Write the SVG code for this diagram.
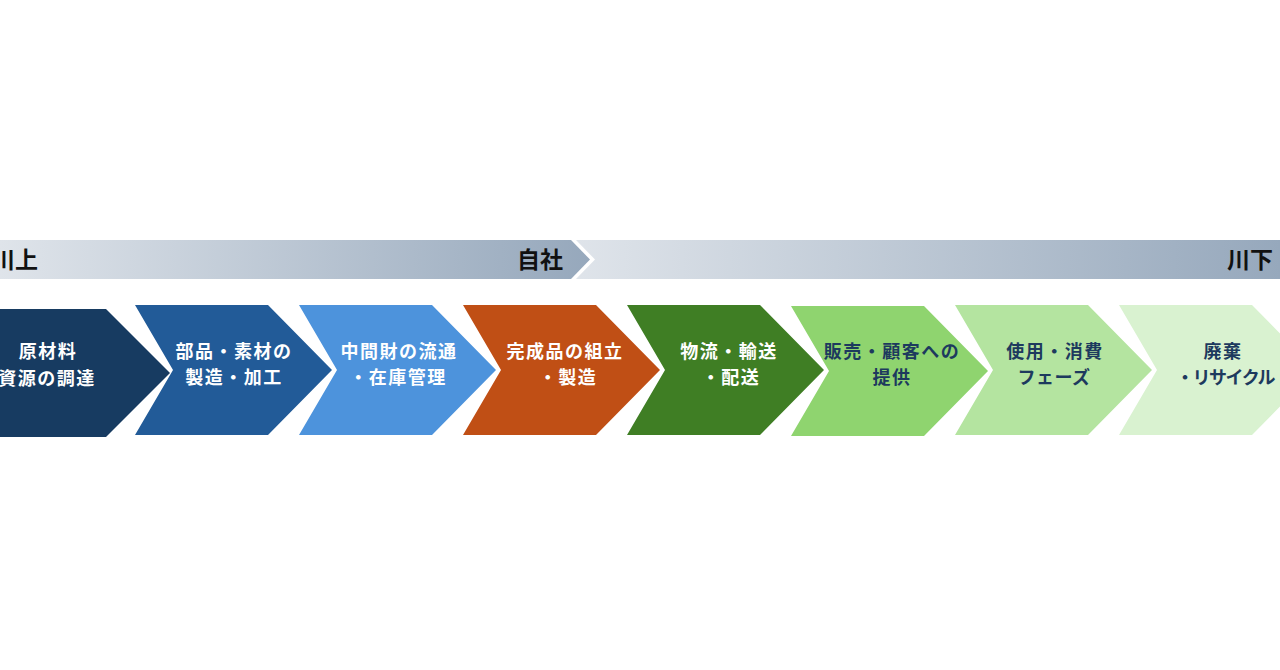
<svg xmlns="http://www.w3.org/2000/svg" width="1280" height="670" viewBox="0 0 1280 670">
  <defs>
    <linearGradient id="barL" x1="0" y1="0" x2="1" y2="0">
      <stop offset="0" stop-color="#dfe4ea"/>
      <stop offset="1" stop-color="#96a8bc"/>
    </linearGradient>
    <linearGradient id="barR" x1="0" y1="0" x2="1" y2="0">
      <stop offset="0" stop-color="#dfe4ea"/>
      <stop offset="1" stop-color="#96a8bc"/>
    </linearGradient>
  </defs>
  <style>
    .lbl { font-family: "Noto Sans CJK JP", "Noto Sans", sans-serif; font-size: 18px; font-weight: bold; text-anchor: middle; letter-spacing: 1.5px; }
    .w { fill: #ffffff; }
    .d { fill: #1d3a5e; }
    .bar { font-family: "Noto Sans CJK JP", "Noto Sans", sans-serif; font-size: 23px; font-weight: bold; fill: #111111; }
  </style>
  <rect width="1280" height="670" fill="#ffffff"/>

  <g id="flow-bar">
    <path d="M0,240 H571 L590,259.5 L571,279 H0 Z" fill="url(#barL)"/>
    <path d="M576,240 H1280 V279 H576 L595,259.5 Z" fill="url(#barR)"/>
    <text class="bar" x="-8" y="268">川上</text>
    <text class="bar" x="563" y="268" text-anchor="end">自社</text>
    <text class="bar" x="1227" y="268">川下</text>
  </g>

  <g id="node1">
    <path d="M-40,309 H106 L170,373 L106,437 H-40 Z" fill="#173b61"/>
    <text class="lbl w" x="48" y="358">原材料</text>
    <text class="lbl w" x="47" y="385">資源の調達</text>
  </g>
  <g id="node2">
    <path d="M135,305 H268 L332,370 L268,435 H135 L173,370 Z" fill="#225b98"/>
    <text class="lbl w" x="234" y="358">部品・素材の</text>
    <text class="lbl w" x="234" y="384">製造・加工</text>
  </g>
  <g id="node3">
    <path d="M299,305 H432 L496,370 L432,435 H299 L337,370 Z" fill="#4d93dc"/>
    <text class="lbl w" x="399" y="358">中間財の流通</text>
    <text class="lbl w" x="398" y="384">・在庫管理</text>
  </g>
  <g id="node4">
    <path d="M463,305 H596 L660,370 L596,435 H463 L501,370 Z" fill="#c04f15"/>
    <text class="lbl w" x="565" y="358">完成品の組立</text>
    <text class="lbl w" x="568" y="384">・製造</text>
  </g>
  <g id="node5">
    <path d="M627,305 H760 L824,370 L760,435 H627 L665,370 Z" fill="#3f7e24"/>
    <text class="lbl w" x="729" y="358">物流・輸送</text>
    <text class="lbl w" x="731" y="384">・配送</text>
  </g>
  <g id="node6">
    <path d="M791,306 H924 L988,371 L924,436 H791 L829,371 Z" fill="#8fd46f"/>
    <text class="lbl d" x="892" y="358">販売・顧客への</text>
    <text class="lbl d" x="892" y="384">提供</text>
  </g>
  <g id="node7">
    <path d="M955,305 H1088 L1152,370 L1088,435 H955 L993,370 Z" fill="#b4e4a0"/>
    <text class="lbl d" x="1055" y="358">使用・消費</text>
    <text class="lbl d" x="1054" y="384" style="letter-spacing:0.5px">フェーズ</text>
  </g>
  <g id="node8">
    <path d="M1119,305 H1252 L1316,370 L1252,435 H1119 L1157,370 Z" fill="#d9f2d0"/>
    <text class="lbl d" x="1223" y="358">廃棄</text>
    <text class="lbl d" x="1176" y="384" style="text-anchor:start;letter-spacing:-1.5px">・リサイクル</text>
  </g>

  <g id="connectors"></g>
</svg>
